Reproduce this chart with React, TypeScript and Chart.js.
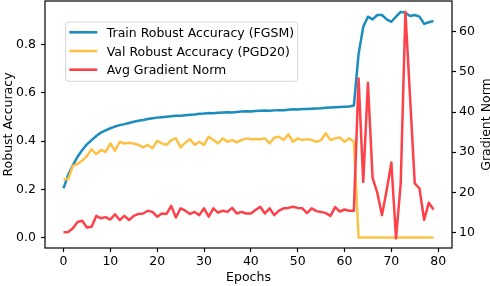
import React, { useEffect, useRef } from "react";
import { Chart, registerables } from "chart.js";

Chart.register(...registerables);

const trainRobustAcc = [
  0.204, 0.26, 0.3, 0.335, 0.363, 0.386, 0.404, 0.421, 0.435, 0.444,
  0.453, 0.46, 0.466, 0.47, 0.475, 0.48, 0.484, 0.487, 0.491, 0.494,
  0.497, 0.499, 0.501, 0.503, 0.505, 0.505, 0.507, 0.509, 0.51, 0.513,
  0.514, 0.516, 0.515, 0.517, 0.518, 0.519, 0.518, 0.52, 0.522, 0.523,
  0.522, 0.524, 0.525, 0.526, 0.525, 0.527, 0.528, 0.528, 0.53, 0.532,
  0.531, 0.533, 0.533, 0.534, 0.535, 0.536, 0.538, 0.539, 0.54, 0.541,
  0.542, 0.543, 0.547, 0.76, 0.873, 0.915, 0.904, 0.922, 0.922, 0.904,
  0.894, 0.915, 0.935, 0.931, 0.918, 0.922, 0.915, 0.885, 0.892, 0.897,
];

const valRobustAcc = [
  0.242, 0.242, 0.297, 0.305, 0.319, 0.338, 0.366, 0.346, 0.363, 0.355,
  0.39, 0.36, 0.397, 0.39, 0.393, 0.39, 0.384, 0.374, 0.384, 0.37,
  0.401, 0.39, 0.384, 0.404, 0.411, 0.374, 0.393, 0.407, 0.384, 0.397,
  0.384, 0.418, 0.404, 0.39, 0.411, 0.397, 0.404, 0.395, 0.404, 0.411,
  0.407, 0.408, 0.407, 0.411, 0.39, 0.414, 0.418, 0.404, 0.428, 0.397,
  0.411, 0.404, 0.408, 0.404, 0.397, 0.404, 0.432, 0.404, 0.411, 0.415,
  0.397, 0.411, 0.397, 0.0, 0.0, 0.0, 0.0, 0.0, 0.0, 0.0,
  0.0, 0.0, 0.0, 0.0, 0.0, 0.0, 0.0, 0.0, 0.0, 0.0,
];

const avgGradNorm = [
  10.0, 10.1, 11.0, 12.6, 12.9, 11.2, 11.4, 14.1, 13.5, 13.8,
  13.2, 14.5, 13.1, 14.1, 13.1, 14.1, 14.6, 14.7, 15.4, 15.1,
  13.9, 14.7, 14.6, 16.6, 13.7, 16.0, 15.4, 14.6, 15.1, 14.3,
  16.0, 13.9, 16.0, 14.9, 15.4, 15.1, 16.1, 14.7, 15.1, 14.7,
  14.7, 15.6, 16.4, 14.7, 16.0, 14.3, 15.4, 16.0, 16.1, 16.4,
  16.1, 16.0, 14.8, 16.0, 15.3, 15.1, 14.8, 14.1, 16.3, 15.2,
  15.7, 15.4, 15.4, 48.4, 22.6, 47.3, 23.5, 19.9, 14.3, 20.5,
  27.4, 8.5, 22.2, 65.0, 43.6, 22.2, 21.0, 13.1, 17.4, 15.7,
];

const epochs = trainRobustAcc.map((_, i) => i);

const xTicks = [0, 10, 20, 30, 40, 50, 60, 70, 80];
const yLeftTicks = [0.0, 0.2, 0.4, 0.6, 0.8];
const yRightTicks = [10, 20, 30, 40, 50, 60];

const seriesLabels = [
  "Train Robust Accuracy (FGSM)",
  "Val Robust Accuracy (PGD20)",
  "Avg Gradient Norm",
];
const xTitle = "Epochs";
const yLeftTitle = "Robust Accuracy";
const yRightTitle = "Gradient Norm";

const BLUE = "#1a8cbe";
const YELLOW = "#fcc247";
const RED = "#fc4149";
const FONT_FAMILY = '"DejaVu Sans", sans-serif';
const FONT_SIZE = 12.5;

const overlayPlugin = {
  id: "overlay",
  afterDatasetsDraw(chart: any) {
    const { ctx, chartArea: a } = chart;
    ctx.save();
    // frame
    ctx.strokeStyle = "#000";
    ctx.lineWidth = 1.2;
    ctx.strokeRect(a.left, a.top, a.right - a.left, a.bottom - a.top);

    ctx.fillStyle = "#000";
    ctx.font = `${FONT_SIZE}px ${FONT_FAMILY}`;
    ctx.textBaseline = "alphabetic";
    ctx.textAlign = "center";
    const midX = (a.left + a.right) / 2;
    const midY = (a.top + a.bottom) / 2;
    ctx.fillText(xTitle, midX, 280.7);

    ctx.save();
    ctx.translate(12, midY);
    ctx.rotate(-Math.PI / 2);
    ctx.fillText(yLeftTitle, 0, 0);
    ctx.restore();

    ctx.save();
    ctx.translate(489.5, midY);
    ctx.rotate(-Math.PI / 2);
    ctx.fillText(yRightTitle, 0, 0);
    ctx.restore();

    // legend
    const x0 = a.left + 20.7;
    const y0 = a.top + 21;
    const textW = Math.max(...seriesLabels.map((t) => ctx.measureText(t).width));
    const w = 41 + textW + 3.5;
    const h = 59.3;
    const r = 3;
    ctx.beginPath();
    ctx.moveTo(x0 + r, y0);
    ctx.lineTo(x0 + w - r, y0);
    ctx.arcTo(x0 + w, y0, x0 + w, y0 + r, r);
    ctx.lineTo(x0 + w, y0 + h - r);
    ctx.arcTo(x0 + w, y0 + h, x0 + w - r, y0 + h, r);
    ctx.lineTo(x0 + r, y0 + h);
    ctx.arcTo(x0, y0 + h, x0, y0 + h - r, r);
    ctx.lineTo(x0, y0 + r);
    ctx.arcTo(x0, y0, x0 + r, y0, r);
    ctx.closePath();
    ctx.fillStyle = "rgba(255,255,255,0.8)";
    ctx.fill();
    ctx.strokeStyle = "#d6d6d6";
    ctx.lineWidth = 1;
    ctx.stroke();

    const colors = [BLUE, YELLOW, RED];
    const rows = [10.3, 29, 47.7];
    ctx.textAlign = "left";
    rows.forEach((dy, i) => {
      const cy = y0 + dy;
      ctx.beginPath();
      ctx.strokeStyle = colors[i];
      ctx.lineWidth = 2.6;
      ctx.moveTo(x0 + 3.6, cy);
      ctx.lineTo(x0 + 31.6, cy);
      ctx.stroke();
      ctx.fillStyle = "#000";
      ctx.fillText(seriesLabels[i], x0 + 41, cy + 4.6);
    });
    ctx.restore();
  },
};

function noPad(s: any) {
  s.paddingTop = 0;
  s.paddingBottom = 0;
  s.paddingLeft = 0;
  s.paddingRight = 0;
}

export default function App() {
  const canvasRef = useRef<HTMLCanvasElement | null>(null);

  useEffect(() => {
    const canvas = canvasRef.current;
    if (!canvas) return;
    const font = { family: FONT_FAMILY, size: FONT_SIZE };
    const tickGrid = {
      display: true,
      drawOnChartArea: false,
      drawTicks: true,
      tickLength: 4,
      tickWidth: 1.2,
      tickColor: "#000",
      color: "#000",
    };
    const chart = new Chart(canvas, {
      type: "line",
      data: {
        datasets: [
          {
            label: seriesLabels[2],
            data: avgGradNorm.map((v, i) => ({ x: epochs[i], y: v })),
            borderColor: RED,
            backgroundColor: RED,
            yAxisID: "y1",
            order: 0,
          },
          {
            label: seriesLabels[1],
            data: valRobustAcc.map((v, i) => ({ x: epochs[i], y: v })),
            borderColor: YELLOW,
            backgroundColor: YELLOW,
            yAxisID: "y",
            order: 1,
          },
          {
            label: seriesLabels[0],
            data: trainRobustAcc.map((v, i) => ({ x: epochs[i], y: v })),
            borderColor: BLUE,
            backgroundColor: BLUE,
            yAxisID: "y",
            order: 2,
          },
        ],
      },
      options: {
        responsive: false,
        animation: false,
        devicePixelRatio: 1,
        layout: { padding: { top: 1, left: 0, right: 0, bottom: 0 } },
        elements: {
          point: { radius: 0, hoverRadius: 0 },
          line: { tension: 0, borderWidth: 2.5, borderJoinStyle: "round", borderCapStyle: "butt" },
        },
        plugins: {
          legend: { display: false },
          tooltip: { enabled: false },
        },
        scales: {
          x: {
            type: "linear",
            position: "bottom",
            min: -3.95,
            max: 82.95,
            afterBuildTicks: (s: any) => {
              s.ticks = xTicks.map((v) => ({ value: v }));
            },
            afterFit: (s: any) => {
              s.height = 38;
              noPad(s);
            },
            grid: tickGrid,
            border: { display: false },
            ticks: {
              padding: 2,
              color: "#000",
              font,
              maxRotation: 0,
              autoSkip: false,
              callback: (v: any) => String(v),
            },
          },
          y: {
            type: "linear",
            position: "left",
            min: -0.043,
            max: 0.98,
            afterBuildTicks: (s: any) => {
              s.ticks = yLeftTicks.map((v) => ({ value: v }));
            },
            afterFit: (s: any) => {
              s.width = 45;
              noPad(s);
            },
            grid: tickGrid,
            border: { display: false },
            ticks: {
              padding: 5,
              color: "#000",
              font,
              autoSkip: false,
              callback: (v: any) => Number(v).toFixed(1),
            },
          },
          y1: {
            type: "linear",
            position: "right",
            min: 6.1,
            max: 67.7,
            afterBuildTicks: (s: any) => {
              s.ticks = yRightTicks.map((v) => ({ value: v }));
            },
            afterFit: (s: any) => {
              s.width = 38;
              noPad(s);
            },
            grid: tickGrid,
            border: { display: false },
            ticks: {
              padding: 3,
              color: "#000",
              font,
              autoSkip: false,
              callback: (v: any) => String(v),
            },
          },
        },
      },
      plugins: [overlayPlugin],
    } as any);
    return () => chart.destroy();
  }, []);

  return (
    <div style={{ position: "fixed", left: 0, top: 0, width: 490, height: 286, background: "#fff" }}>
      <canvas ref={canvasRef} width={490} height={286} style={{ display: "block", width: 490, height: 286 }} />
    </div>
  );
}
